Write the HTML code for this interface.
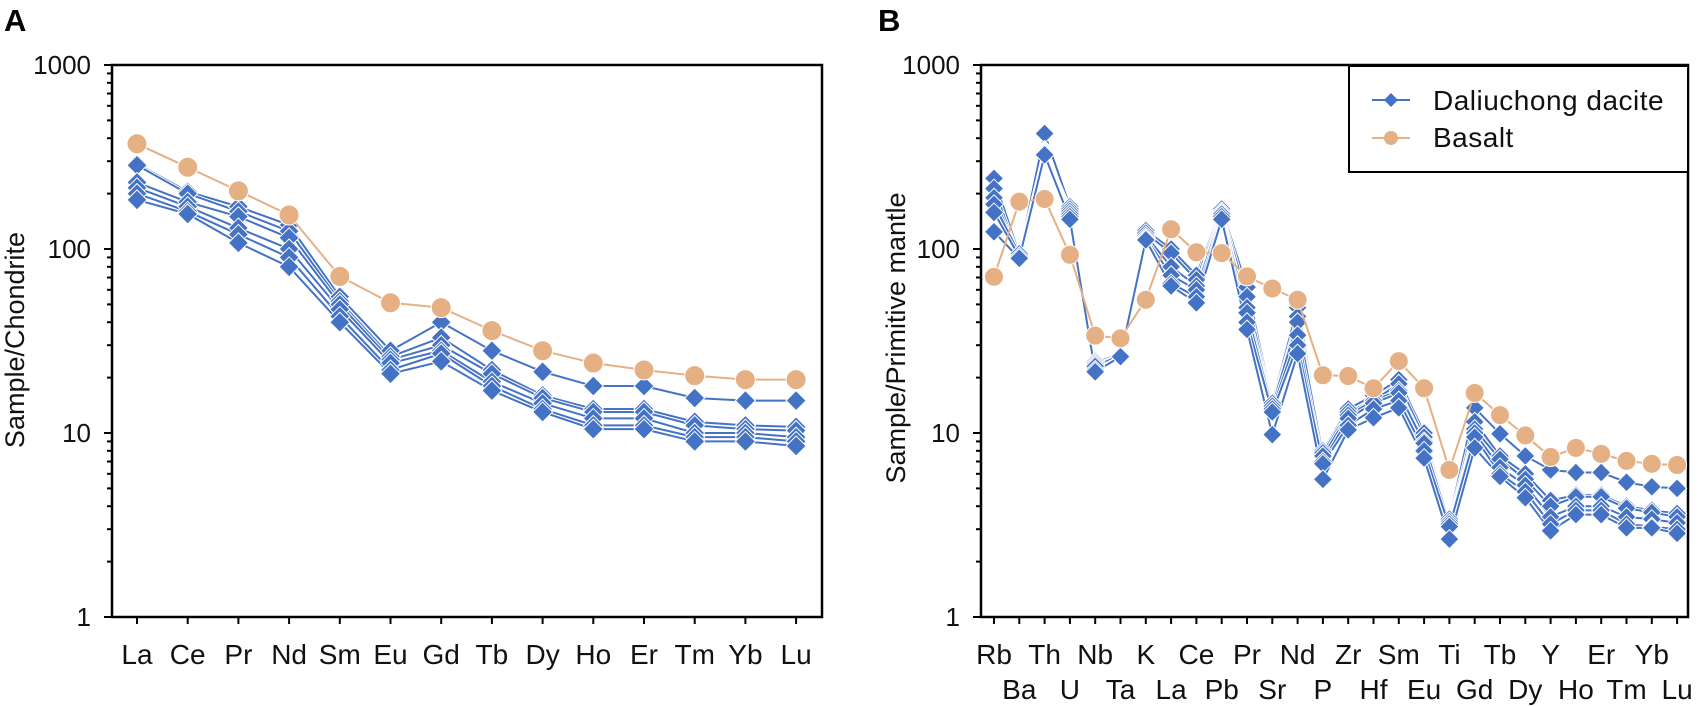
<!DOCTYPE html>
<html><head><meta charset="utf-8"><style>
html,body{margin:0;padding:0;background:#fff;}
svg{display:block;font-family:"Liberation Sans",Arial,sans-serif;}
</style></head><body>
<svg id="chart" width="1699" height="707" viewBox="0 0 1699 707" xmlns="http://www.w3.org/2000/svg"></svg>
<script>
// ---- Panel A data (chondrite-normalized REE) ----
const catsA = ["La","Ce","Pr","Nd","Sm","Eu","Gd","Tb","Dy","Ho","Er","Tm","Yb","Lu"];
const basaltA = [373,278,207,153,71,51,48,36,28,24,22,20.5,19.5,19.5];
const dacA1 = [290,205,170,135,55,28,40,28,21.5,18,18,15.5,15,15];
const dacA2 = [285,200,160,125,52,26,33,22,16,13.5,13.5,11.5,11,10.8];
const dacA3 = [230,180,150,115,50,25,30,21,15.5,13,13,11,10.5,10.3];
const dacA4 = [215,170,130,100,47,24,28,19,14.5,12,12,10,10,9.5];
const dacA5 = [200,160,120,90,43,22,27,18,13.5,11,11,9.5,9.5,9];
const dacA6 = [185,155,108,80,40,21,24.5,17,13,10.5,10.5,9,9,8.5];
// ---- Panel B data (primitive-mantle normalized) ----
const catsB = ["Rb","Ba","Th","U","Nb","Ta","K","La","Ce","Pb","Pr","Sr","Nd","P","Zr","Hf","Sm","Eu","Ti","Gd","Tb","Dy","Y","Ho","Er","Tm","Yb","Lu"];
const basaltB = [70.6,181,187,93,33.8,32.7,53,128,96,95,71,61,53,20.6,20.4,17.5,24.6,17.5,6.3,16.5,12.5,9.7,7.4,8.3,7.7,7.05,6.8,6.7];
const dacB1 = [242,93,424,170,24.5,27,126,100,72,165,62,14.5,48,8,13.5,16,19.5,10,3.4,13.7,9.9,7.5,6.3,6.1,6.1,5.4,5.1,5.0];
const dacB2 = [213,90,345,165,24,27,122,95,68,160,55,14,43,7.8,13,15,18.5,9.5,3.3,11.5,7.5,6,4.3,4.6,4.6,4.0,3.8,3.65];
const dacB3 = [190,92,340,160,23.5,26.5,118,80,63,157,48,14,40,7.5,12.5,15,17,9,3.2,10.5,7.2,5.6,4.0,4.5,4.5,3.9,3.7,3.5];
const dacB4 = [175,94,335,155,23,26.5,115,72,60,155,45,13.5,34,7,12,14.5,16.5,8.8,3.2,10,6.5,5.2,3.5,4.0,4.0,3.5,3.4,3.25];
const dacB5 = [158,91,330,150,22,26,113,65,55,150,40,13,30,6.8,11,13.5,15,8,3.1,9.5,6,4.8,3.2,3.8,3.8,3.2,3.1,3.0];
const dacB6 = [124,89,325,145,21.5,26,112,63,51,145,36.5,9.8,27,5.6,10.4,12.1,13.7,7.3,2.65,8.3,5.8,4.45,2.94,3.6,3.6,3.05,3.05,2.85];
const yTicks = [1,10,100,1000];
const yTickLabels = ["1","10","100","1000"];

const NS="http://www.w3.org/2000/svg";
const svg=document.getElementById('chart');
function mk(tag,attrs,parent){const e=document.createElementNS(NS,tag);for(const k in attrs)e.setAttribute(k,attrs[k]);(parent||svg).appendChild(e);return e;}
const BLUE="#4472C4", PEACH="#E6B085";
const TOP=65, BOT=617;
function yScale(v){return BOT-(BOT-TOP)*Math.log10(v)/3;}

function panel(o){
  const g=mk('g',{});
  
  
  const xs=i=>o.x0+i*o.dx;
  const fr=mk('rect',{x:o.left,y:TOP,width:o.right-o.left,height:BOT-TOP,fill:'none',stroke:'#000','stroke-width':2.5},g);
  
  
  for(let d=0;d<3;d++){for(let m=2;m<=9;m++){const y=yScale(m*Math.pow(10,d));mk('line',{x1:o.left-5,x2:o.left,y1:y,y2:y,stroke:'#000','stroke-width':2},g);}}
  yTicks.forEach((v,i)=>{const y=yScale(v);mk('line',{x1:o.left-8,x2:o.left,y1:y,y2:y,stroke:'#000','stroke-width':2},g);
    const t=mk('text',{x:o.left-21,y:y+9,'text-anchor':'end','font-size':26,fill:'#111'},g);t.textContent=yTickLabels[i];
    
    });
  o.cats.forEach((c,i)=>{const x=xs(i);mk('line',{x1:x,x2:x,y1:BOT,y2:BOT+7,stroke:'#000','stroke-width':2},g);
    const row=o.twoRow?(i%2):0;
    const t=mk('text',{x:x,y:664+row*35,'text-anchor':'middle','font-size':28,fill:'#111'},g);t.textContent=c;
    
    });
  const yt=mk('text',{x:0,y:0,transform:`translate(${o.ytx},${o.yty}) rotate(-90)`,'text-anchor':'middle','font-size':27,fill:'#111'},g);
  yt.textContent=o.ytitle;
  
  
  const pl=mk('text',{x:o.lx,y:31,'font-size':31,'font-weight':'bold',fill:'#000'},g);pl.textContent=o.letter;
  
  
  o.dac.forEach((arr,si)=>{
    const pts=arr.map((v,i)=>xs(i)+','+yScale(v)).join(' ');
    mk('polyline',{points:pts,fill:'none',stroke:'#fff','stroke-width':4},g);
    const pl2=mk('polyline',{points:pts,fill:'none',stroke:BLUE,'stroke-width':2},g);
    
    
  });
  o.dac.forEach(arr=>{arr.forEach((v,i)=>{const x=xs(i),y=yScale(v),r=o.r;
    const d=mk('polygon',{points:`${x},${y-r} ${x+r},${y} ${x},${y+r} ${x-r},${y}`,fill:BLUE,stroke:'#fff','stroke-width':1},g);
    
    });});
  const bp=o.bas.map((v,i)=>xs(i)+','+yScale(v)).join(' ');
  const bl=mk('polyline',{points:bp,fill:'none',stroke:PEACH,'stroke-width':2},g);
  
  
  o.bas.forEach((v,i)=>{const c=mk('circle',{cx:xs(i),cy:yScale(v),r:o.r,fill:PEACH,stroke:'#fff','stroke-width':1},g);
    
    });
}
panel({name:'panel-a',cats:catsA,left:112,right:822,x0:137,dx:50.7,twoRow:false,ytitle:'Sample/Chondrite',ytx:24,yty:340,letter:'A',lx:4,
  dac:[dacA1,dacA2,dacA3,dacA4,dacA5,dacA6],bas:basaltA,r:10});
panel({name:'panel-b',cats:catsB,left:981,right:1688,x0:994,dx:25.3,twoRow:true,ytitle:'Sample/Primitive mantle',ytx:905,yty:338,letter:'B',lx:878,
  dac:[dacB1,dacB2,dacB3,dacB4,dacB5,dacB6],bas:basaltB,r:9.5});
const lg=mk('g',{});


mk('rect',{x:1349,y:66,width:339,height:106,fill:'#fff',stroke:'#000','stroke-width':2},lg);
mk('line',{x1:1372,x2:1410,y1:100,y2:100,stroke:BLUE,'stroke-width':2},lg);
mk('polygon',{points:'1391,93 1398,100 1391,107 1384,100',fill:BLUE},lg);
const t1=mk('text',{x:1433,y:110,'font-size':28,'letter-spacing':0.5,fill:'#111'},lg);t1.textContent='Daliuchong dacite';


mk('line',{x1:1372,x2:1410,y1:138,y2:138,stroke:PEACH,'stroke-width':2},lg);
mk('circle',{cx:1391,cy:138,r:7,fill:PEACH},lg);
const t2=mk('text',{x:1433,y:147,'font-size':28,'letter-spacing':0.5,fill:'#111'},lg);t2.textContent='Basalt';


</script>
</body></html>
